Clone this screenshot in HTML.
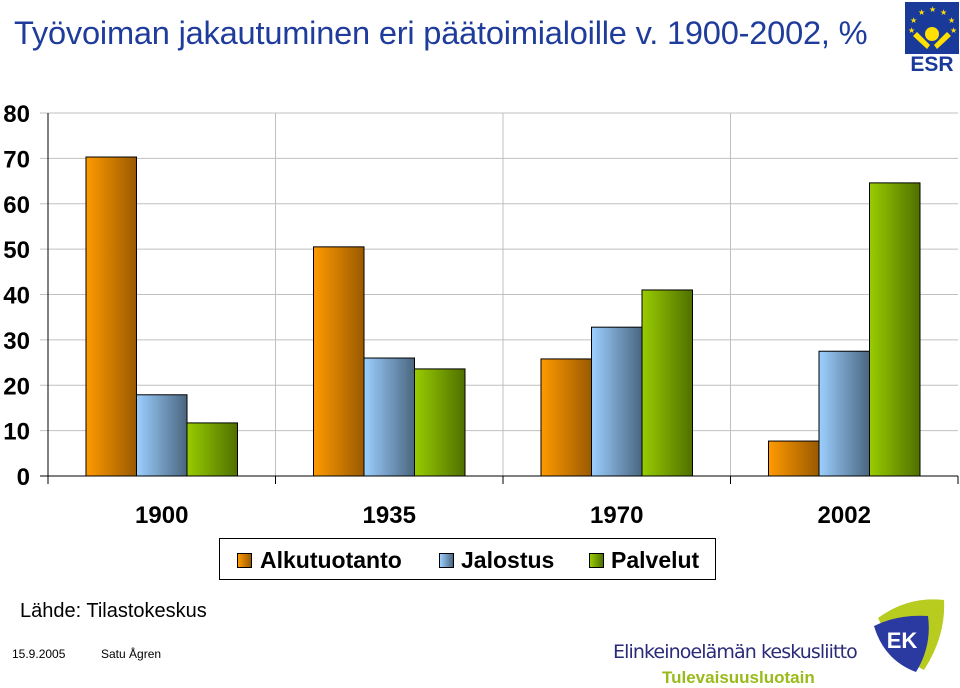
<!DOCTYPE html>
<html><head><meta charset="utf-8"><style>
body{margin:0;width:960px;height:688px;background:#fff;overflow:hidden;font-family:"Liberation Sans",sans-serif;position:relative}
.abs{position:absolute}
</style></head><body>
<div class="abs" style="left:14px;top:14px;font-size:32.6px;letter-spacing:-0.2px;color:#1f3c9c;white-space:nowrap">Työvoiman jakautuminen eri päätoimialoille v. 1900-2002, %</div>
<svg class="abs" style="left:905px;top:2px" width="54" height="70">
<rect x="0" y="0" width="54" height="52" fill="#1a3a9a"/>
<g fill="#ffe000" font-size="8" font-family="DejaVu Sans"><text x="24" y="10">★</text><text x="13" y="13">★</text><text x="35" y="13">★</text><text x="5" y="21">★</text><text x="43" y="21">★</text><text x="3" y="31">★</text><text x="45" y="31">★</text></g>
<circle cx="27" cy="32" r="7" fill="#ffe000"/>
<path d="M8 34 L22 47 L25 43 L12 30Z M46 34 L32 47 L29 43 L42 30Z" fill="#ffe000"/>
<text x="27" y="69" text-anchor="middle" font-size="21" font-weight="bold" fill="#1a3a9a" font-family="Liberation Sans">ESR</text>
</svg>
<svg class="abs" style="left:0;top:0" width="960" height="600" id="chart">
<defs>
<linearGradient id="gO" x1="0" x2="1"><stop offset="0" stop-color="#ff9a00"/><stop offset="1" stop-color="#9a5a00"/></linearGradient>
<linearGradient id="gB" x1="0" x2="1"><stop offset="0" stop-color="#9ccfff"/><stop offset="1" stop-color="#4a6680"/></linearGradient>
<linearGradient id="gG" x1="0" x2="1"><stop offset="0" stop-color="#99cc00"/><stop offset="1" stop-color="#4f7000"/></linearGradient>
</defs>
<g id="grid"></g><g id="bars"></g><g id="axes"></g>
</svg>
<div class="abs" style="left:219px;top:538px;width:497px;height:42px;border:1px solid #000;box-sizing:border-box;font-size:23px;font-weight:bold">
<span class="abs" style="left:17px;top:14px;width:13px;height:13px;border:1px solid #000;background:linear-gradient(90deg,#ff9a00,#9a5a00)"></span>
<span class="abs" style="left:40px;top:8px">Alkutuotanto</span>
<span class="abs" style="left:219px;top:14px;width:13px;height:13px;border:1px solid #000;background:linear-gradient(90deg,#9ccfff,#4a6680)"></span>
<span class="abs" style="left:241px;top:8px">Jalostus</span>
<span class="abs" style="left:369px;top:14px;width:13px;height:13px;border:1px solid #000;background:linear-gradient(90deg,#99cc00,#4f7000)"></span>
<span class="abs" style="left:391px;top:8px">Palvelut</span>
</div>
<div class="abs" style="left:20px;top:600px;font-size:20px">Lähde: Tilastokeskus</div>
<div class="abs" style="left:12px;top:647px;font-size:12px">15.9.2005</div>
<div class="abs" style="left:101px;top:647px;font-size:12px">Satu Ågren</div>
<div class="abs" style="left:613px;top:641px;font-size:19px;color:#2a2a7a;font-family:'DejaVu Sans',sans-serif;letter-spacing:-0.9px">Elinkeinoelämän keskusliitto</div>
<div class="abs" style="left:662px;top:668px;font-size:17px;font-weight:bold;color:#9aba1a">Tulevaisuusluotain</div>
<svg class="abs" style="left:868px;top:596px" width="80" height="80">
<path d="M10 22 Q40 0 76 4 Q78 40 56 74 Q28 60 10 22Z" fill="#b8cc20"/>
<path d="M6 30 Q30 18 60 20 Q64 50 48 76 Q16 64 6 30Z" fill="#2a3aa0"/>
<text x="34" y="52" text-anchor="middle" font-size="22" font-weight="bold" fill="#fff" font-family="Liberation Sans">EK</text>
</svg>
<script>
const categories=["1900","1935","1970","2002"];
const alkutuotanto=[70.3,50.5,25.8,7.7];
const jalostus=[17.9,26,32.8,27.5];
const palvelut=[11.7,23.6,41,64.6];
const yTicks=[0,10,20,30,40,50,60,70,80];
const NS="http://www.w3.org/2000/svg";
const x0=48,x1=958,y0=476,yTop=113;
const y=v=>y0-(v/80)*(y0-yTop);
const cw=(x1-x0)/categories.length;
const grid=document.getElementById('grid'),bars=document.getElementById('bars'),axes=document.getElementById('axes');
function mk(tag,attrs,parent){const e=document.createElementNS(NS,tag);for(const k in attrs)e.setAttribute(k,attrs[k]);parent.appendChild(e);return e;}
yTicks.forEach(t=>{
 const l=mk('line',{x1:x0-8,x2:x1,y1:y(t),y2:y(t),stroke:t?'#c0c0c0':'#000','stroke-width':1},t?grid:axes);
 
 
 const tx=mk('text',{x:30,y:y(t)+9,'text-anchor':'end','font-size':24,'font-weight':'bold','font-family':'Liberation Sans'},axes);
 tx.textContent=t;
 
 
});
for(let i=0;i<=categories.length;i++){
 const x=x0+i*cw;
 if(i>0&&i<categories.length){const g=mk('line',{x1:x,x2:x,y1:yTop,y2:y0,stroke:'#c0c0c0'},grid);}
 const t=mk('line',{x1:x,x2:x,y1:y0,y2:y0+8,stroke:'#000'},axes);
 
 
}
const ya=mk('line',{x1:x0,x2:x0,y1:yTop,y2:y0,stroke:'#000'},axes);


const series=[[alkutuotanto,'url(#gO)','alkutuotanto'],[jalostus,'url(#gB)','jalostus'],[palvelut,'url(#gG)','palvelut']];
const bw=50.5,off=38;
categories.forEach((c,i)=>{
 series.forEach((s,j)=>{
  const v=s[0][i];
  const r=mk('rect',{x:x0+i*cw+off+j*bw,y:y(v),width:bw,height:y0-y(v),fill:s[1],stroke:'#000','stroke-width':1},bars);
  
  
 });
 const tx=mk('text',{x:x0+i*cw+cw/2,y:523,'text-anchor':'middle','font-size':24,'font-weight':'bold','font-family':'Liberation Sans'},axes);
 tx.textContent=c;
 
 
});
</script>
</body></html>
